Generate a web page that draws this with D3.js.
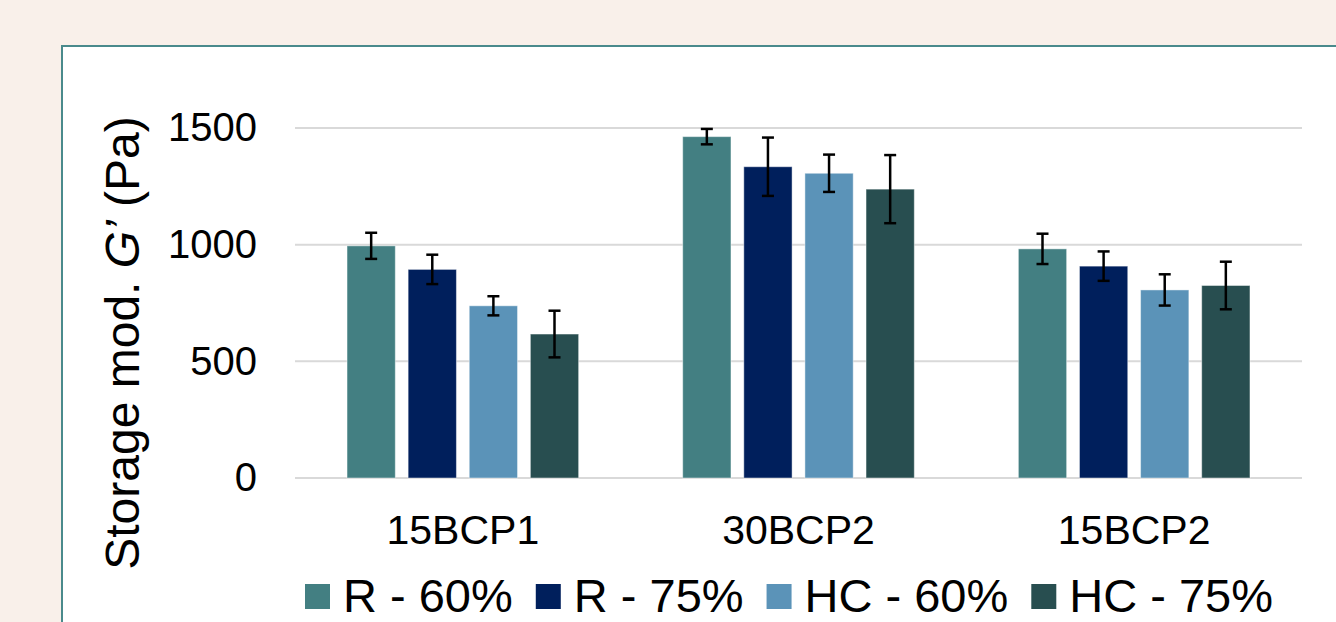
<!DOCTYPE html>
<meta charset="utf-8">

<head>
    <style>
        body {
            margin: 0;
            background: #f9f0ea;
        }

        text {
            font-family: 'Liberation Sans', Arial, sans-serif;
            fill: #000;
        }

        .y-axis text {
            font-size: 40px;
        }

        .x-axis text {
            font-size: 41px;
        }

        .legend-label {
            font-size: 47px;
        }

        .y-title {
            font-size: 48px;
            text-anchor: middle;
        }
    </style>
</head>

<script src="https://d3js.org/d3.v7.min.js"></script>

<div id="chart"></div>

<script>

    // values
    const categories = ["15BCP1", "30BCP2", "15BCP2"];
    const series = ["R - 60%", "R - 75%", "HC - 60%", "HC - 75%"];
    const colors = ["#437f82", "#001f5c", "#5b93b8", "#284e50"];

    // one array per series, one value per category
    const r60 = [995, 1463, 982];
    const r75 = [894, 1334, 908];
    const hc60 = [738, 1306, 806];
    const hc75 = [617, 1238, 825];

    const r60Err = [56, 33, 65];
    const r75Err = [63, 125, 63];
    const hc60Err = [41, 80, 67];
    const hc75Err = [100, 146, 102];

    const yTicks = [0, 500, 1000, 1500];

    const values = [r60, r75, hc60, hc75];
    const errors = [r60Err, r75Err, hc60Err, hc75Err];

    const width = 1336, height = 622;
    const plot = { left: 295, right: 1302, top: 128, bottom: 478 };

    const svg = d3.select("#chart")
        .append("svg")
        .attr("width", width)
        .attr("height", height);

    // white panel with teal border (runs off the right / bottom edge)
    svg.append("rect")
        .attr("x", 62)
        .attr("y", 46)
        .attr("width", 1400)
        .attr("height", 700)
        .attr("fill", "#fff")
        .attr("stroke", "#4a8a8c")
        .attr("stroke-width", 2);

    const y = d3.scaleLinear()
        .domain([0, 1500])
        .range([plot.bottom, plot.top]);

    const x0 = d3.scaleBand()
        .domain(categories)
        .range([plot.left, plot.right])
        .paddingInner(0.31)
        .paddingOuter(0.155);

    const x1 = d3.scaleBand()
        .domain(series)
        .range([0, x0.bandwidth()])
        .paddingInner(0.21);

    // gridlines
    svg.append("g")
        .selectAll("line")
        .data(yTicks)
        .enter()
        .append("line")
        .attr("x1", plot.left)
        .attr("x2", plot.right)
        .attr("y1", d => y(d))
        .attr("y2", d => y(d))
        .attr("stroke", "#d9d9d9")
        .attr("stroke-width", 2);

    // y axis labels
    svg.append("g")
        .attr("class", "y-axis")
        .attr("transform", "translate(" + (plot.left - 38) + ",0)")
        .call(d3.axisLeft(y).tickValues(yTicks).tickFormat(d3.format("d")).tickSize(0).tickPadding(0))
        .call(g => g.select(".domain").remove());

    // x axis labels
    svg.append("g")
        .attr("class", "x-axis")
        .attr("transform", "translate(0," + (plot.bottom + 37) + ")")
        .call(d3.axisBottom(x0).tickSize(0).tickPadding(0))
        .call(g => g.select(".domain").remove())
        .selectAll("text")
        .attr("dy", "0.71em");

    // flat rows for the bars
    const rows = [];
    categories.forEach((c, ci) => {
        series.forEach((s, si) => {
            rows.push({ cat: c, s: s, color: colors[si], v: values[si][ci], e: errors[si][ci] });
        });
    });

    const groups = svg.append("g");

    groups.selectAll("rect")
        .data(rows)
        .enter()
        .append("rect")
        .attr("x", d => x0(d.cat) + x1(d.s))
        .attr("y", d => y(d.v))
        .attr("width", x1.bandwidth())
        .attr("height", d => y(0) - y(d.v))
        .attr("fill", d => d.color)
        .attr("stroke", "rgba(255,255,255,0.45)")
        .attr("stroke-width", 1);

    // error bars
    const cap = 6;
    const err = svg.append("g")
        .attr("stroke", "#000")
        .attr("stroke-width", 2.5);

    rows.forEach(d => {
        const cx = x0(d.cat) + x1(d.s) + x1.bandwidth() / 2;
        err.append("line")
            .attr("x1", cx).attr("x2", cx)
            .attr("y1", y(d.v + d.e)).attr("y2", y(d.v - d.e));
        err.append("line")
            .attr("x1", cx - cap).attr("x2", cx + cap)
            .attr("y1", y(d.v + d.e)).attr("y2", y(d.v + d.e));
        err.append("line")
            .attr("x1", cx - cap).attr("x2", cx + cap)
            .attr("y1", y(d.v - d.e)).attr("y2", y(d.v - d.e));
    });

    // y axis title
    const title = svg.append("text")
        .attr("class", "y-title")
        .attr("transform", "translate(139," + 343 + ") rotate(-90)");
    title.append("tspan").text("Storage mod. ");
    title.append("tspan").attr("font-style", "italic").text("G’");
    title.append("tspan").text(" (Pa)");

    // legend
    const legend = svg.append("g").attr("transform", "translate(305,0)");
    let lx = 0;
    series.forEach((s, i) => {
        legend.append("rect")
            .attr("x", lx)
            .attr("y", 584)
            .attr("width", 25)
            .attr("height", 25)
            .attr("fill", colors[i]);
        const t = legend.append("text")
            .attr("class", "legend-label")
            .attr("x", lx + 38)
            .attr("y", 612)
            .text(s);
        lx += 38 + t.node().getComputedTextLength() + 23;
    });
</script>
